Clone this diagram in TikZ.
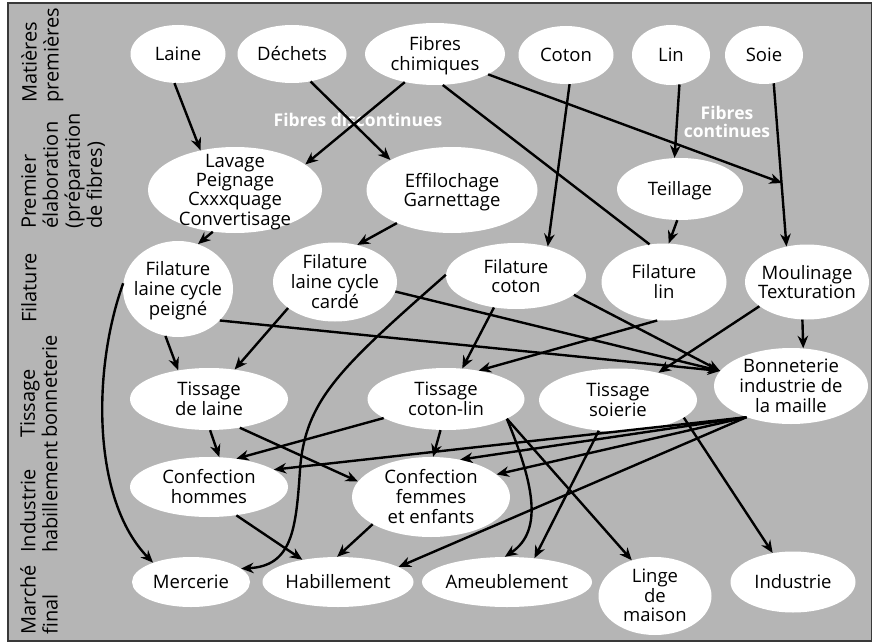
\documentclass[tikz,border=0pt]{standalone}
\usepackage{fontspec}
\setmainfont{Open Sans}
\usetikzlibrary{shapes.geometric,arrows.meta,calc}
\definecolor{bgray}{RGB}{181,181,181}
\newcommand\nodefnt{\fontsize{18.5}{19}\selectfont}
\newcommand\ztx[1]{\makebox[0pt]{\raisebox{\dimexpr0.5\depth-0.5\height-2.5pt\relax}[0pt][0pt]{\begin{tabular}[b]{@{}c@{}}#1\end{tabular}}}}
\tikzset{
  el/.style 2 args={ellipse, fill=white, draw=none, inner sep=0pt, minimum width=#1, minimum height=#2, font=\nodefnt},
  arr/.style={-{Stealth[length=12.5pt,width=10.5pt,inset=4pt]}, line width=2.4pt},
  ln/.style={line width=2.4pt},
  rowlab/.style={rotate=90, anchor=north west, align=left, inner sep=0pt, font=\fontsize{20}{22}\selectfont},
  wlab/.style={text=white, font=\bfseries\fontsize{17.5}{17.5}\selectfont, align=center, inner sep=0pt}
}
\begin{document}
\begin{tikzpicture}[x=1pt,y=-1pt]
\path[use as bounding box, fill=white] (0,0) rectangle (873,642);
\draw[fill=bgray, draw=gray!45!black, line width=1.2pt] (8,3) rectangle (871.5,641);

% row labels
\node[rowlab] (r1) at (21,103) {Matières\\premières};
\node[rowlab] (r2) at (21,229) {Premier\\élaboration\\(préparation\\de fibres)};
\node[rowlab] (r3) at (21,323) {Filature};
\node[rowlab] (r4) at (20,438) {Tissage\\bonneterie};
\node[rowlab] (r5) at (20,553) {Industrie\\habillement};
\node[rowlab] (r6) at (20,635) {Marché\\final};

% nodes
\node[el={95pt}{58pt}] (laine) at (178,54) {\ztx{Laine}};
\node[el={109pt}{58pt}] (dechets) at (292,54) {\ztx{Déchets}};
\node[el={140pt}{62pt}] (fibres) at (435,54) {\ztx{Fibres\\chimiques}};
\node[el={95pt}{58pt}] (coton) at (566,55) {\ztx{Coton}};
\node[el={78pt}{60pt}] (lin) at (671,55) {\ztx{Lin}};
\node[el={78pt}{58pt}] (soie) at (764,55) {\ztx{Soie}};

\node[el={174pt}{86pt}] (lavage) at (235,190) {\ztx{Lavage\\Peignage\\Cxxxquage\\Convertisage}};
\node[el={171pt}{86pt}] (effil) at (452,190) {\ztx{Effilochage\\Garnettage}};
\node[el={126pt}{62pt}] (teill) at (680,189) {\ztx{Teillage}};

\node[el={110pt}{96pt}] (filp) at (178,289) {\ztx{Filature\\laine cycle\\peigné}};
\node[el={124pt}{79pt}] (filc) at (335,282) {\ztx{Filature\\laine cycle\\cardé}};
\node[el={140pt}{66pt}] (filco) at (516,276) {\ztx{Filature\\coton}};
\node[el={125pt}{77pt}] (filli) at (664,282) {\ztx{Filature\\lin}};
\node[el={124pt}{75pt}] (moul) at (807,282) {\ztx{Moulinage\\Texturation}};

\node[el={158pt}{62pt}] (tlaine) at (209,399) {\ztx{Tissage\\de laine}};
\node[el={157pt}{62pt}] (tcoton) at (446,399) {\ztx{Tissage\\coton-lin}};
\node[el={158pt}{63pt}] (tsoie) at (618,400) {\ztx{Tissage\\soierie}};
\node[el={154pt}{76pt}] (bonn) at (791,386) {\ztx{Bonneterie\\industrie de\\la maille}};

\node[el={158pt}{60pt}] (chom) at (209,487) {\ztx{Confection\\hommes}};
\node[el={158pt}{80pt}] (cfem) at (431,497) {\ztx{Confection\\femmes\\et enfants}};

\node[el={118pt}{50pt}] (merc) at (191,582) {\ztx{Mercerie}};
\node[el={151pt}{50pt}] (habil) at (338,582) {\ztx{Habillement}};
\node[el={170pt}{50pt}] (ameub) at (507,582) {\ztx{Ameublement}};
\node[el={113pt}{78pt}] (linge) at (655,596) {\ztx{Linge\\de\\maison}};
\node[el={125pt}{61pt}] (indus) at (793,582) {\ztx{Industrie}};

% white labels
\node[wlab] (fd) at (358,120) {Fibres discontinues};
\node[wlab] (fc) at (727,122) {Fibres\\continues};

% edges
\draw[arr] (laine.-97) -- (lavage.131);
\draw[arr] (dechets.-56) -- (effil.154);
\draw[arr] (fibres.-137) -- (lavage.20);
\draw[ln] (fibres.-76) -- (filli.111);
\coordinate (j1) at (782,183);
\draw[arr] (fibres.-21) -- (j1);
\draw[arr] (coton.-83) -- (filco.43);
\draw[arr] (lin.-74) -- (teill.100);
\draw[arr] (soie.-71) -- (moul.120);
\draw[arr] (lavage.-118) -- (filp.66);
\draw[arr] (effil.-149) -- (filc.59);
\draw[arr] (teill.-95) -- (filli.83);
\draw[arr] (filp.-105) -- (tlaine.137);
\draw[arr] (filp.-37) -- (bonn.168);
\draw[arr] (filc.-9) -- (bonn.168);
\draw[arr] (filco.-18) -- (bonn.168);
\draw[arr] (filc.-151) -- (tlaine.49);
\draw[arr] (filco.-125) -- (tcoton.62);
\draw[arr] (filli.-100) -- (tcoton.41);
\draw[arr] (moul.-153) -- (tsoie.34);
\draw[arr] (moul.-97) -- (bonn.72);
\draw[arr] (filco.179) .. controls (340,368) and (305,400) .. (300,470) .. controls (296,530) and (292,566) .. (merc.15);
\draw[arr] (filp.174) .. controls (92,370) and (92,500) .. (merc.153);
\draw[arr] (tlaine.-88) -- (chom.71);
\draw[arr] (tlaine.-43) -- (cfem.168);
\draw[arr] (tcoton.-163) -- (chom.46);
\draw[arr] (tcoton.-100) -- (cfem.87);
\draw[arr] (bonn.-145) -- (chom.15);
\draw[arr] (bonn.-145) -- (cfem.52);
\draw[arr] (bonn.-145) -- (cfem.19);
\draw[arr] (bonn.-145) -- (habil.14);
\draw[arr] (tcoton.-18) .. controls (532,480) and (545,530) .. (ameub.95);
\draw[arr] (tcoton.-18) -- (linge.123);
\draw[arr] (tsoie.-122) -- (ameub.41);
\draw[arr] (tsoie.-15) -- (indus.125);
\draw[arr] (chom.-46) -- (habil.148);
\draw[arr] (cfem.-155) -- (habil.92);
\end{tikzpicture}
\end{document}
